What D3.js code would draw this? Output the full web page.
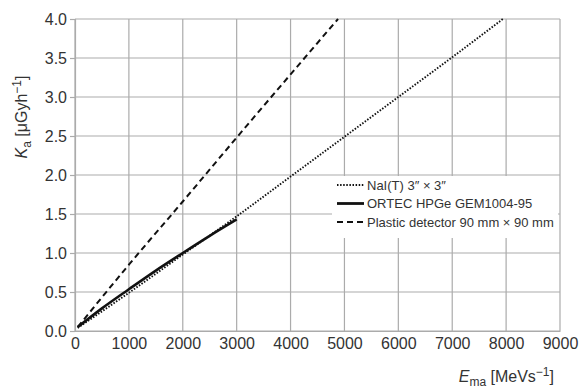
<!DOCTYPE html>
<html>
<head>
<meta charset="utf-8">
<script src="https://cdn.jsdelivr.net/npm/d3@7"></script>
<style>
  body { margin: 0; background: #fff; }
  svg { font-family: "Liberation Sans", Arial, sans-serif; }
</style>
</head>
<body>
<svg width="581" height="389"></svg>
<script>
// readings from the picture
var xTicks = [0, 1000, 2000, 3000, 4000, 5000, 6000, 7000, 8000, 9000];
var yTicks = [0.0, 0.5, 1.0, 1.5, 2.0, 2.5, 3.0, 3.5, 4.0];

var naiX = [50, 1000, 2000, 3000, 4000, 5000, 6000, 7000, 7940];
var naiY = [0.04, 0.49, 0.98, 1.47, 1.98, 2.49, 3.0, 3.51, 4.0];

var hpgeX = [50, 500, 1000, 1500, 2000, 2500, 3000];
var hpgeY = [0.05, 0.29, 0.535, 0.775, 1.0, 1.22, 1.43];

var plasticX = [50, 1000, 2000, 3000, 4000, 4880];
var plasticY = [0.05, 0.85, 1.66, 2.48, 3.29, 4.0];

var legendLabels = ["NaI(T) 3\u2033 \u00d7 3\u2033", "ORTEC HPGe GEM1004-95", "Plastic detector 90 mm \u00d7 90 mm"];

var svg = d3.select("svg");
var plotLeft = 75, plotRight = 560, plotTop = 19, plotBottom = 331;
var gridColor = "#ababab", textColor = "#333";

var x = d3.scaleLinear().domain([0, 9000]).range([plotLeft, plotRight]);
var y = d3.scaleLinear().domain([0, 4]).range([plotBottom, plotTop]);

// grid
svg.append("g")
   .selectAll("line")
   .data(xTicks)
   .enter().append("line")
   .attr("x1", function(d) { return x(d); })
   .attr("x2", function(d) { return x(d); })
   .attr("y1", plotTop).attr("y2", plotBottom)
   .attr("stroke", gridColor).attr("stroke-width", 1.2);

svg.append("g")
   .selectAll("line")
   .data(yTicks)
   .enter().append("line")
   .attr("x1", plotLeft).attr("x2", plotRight)
   .attr("y1", function(d) { return y(d); })
   .attr("y2", function(d) { return y(d); })
   .attr("stroke", gridColor).attr("stroke-width", 1.2);

// axes
var yAxis = svg.append("g")
   .attr("transform", "translate(" + plotLeft + ",0)")
   .call(d3.axisLeft(y).tickValues(yTicks).tickSize(5).tickPadding(3).tickFormat(d3.format(".1f")));
var xAxis = svg.append("g")
   .attr("transform", "translate(0," + plotBottom + ")")
   .call(d3.axisBottom(x).tickValues(xTicks).tickSize(0).tickPadding(7).tickFormat(d3.format("d")));

[xAxis, yAxis].forEach(function(a) {
    a.select(".domain").attr("stroke", gridColor).attr("stroke-width", 1.2);
    a.selectAll(".tick line").attr("stroke", gridColor).attr("stroke-width", 1.2);
    a.selectAll("text").attr("fill", textColor).style("font-size", "16px");
});

// series
var line = d3.line()
   .curve(d3.curveMonotoneX)
   .x(function(d) { return x(d[0]); })
   .y(function(d) { return y(d[1]); });

function pairs(xs, ys) {
    return xs.map(function(v, i) { return [v, ys[i]]; });
}

svg.append("path")
   .datum(pairs(naiX, naiY))
   .attr("d", line)
   .attr("fill", "none").attr("stroke", "#111")
   .attr("stroke-width", 1.9).attr("stroke-dasharray", "1.5,1.6");

svg.append("path")
   .datum(pairs(plasticX, plasticY))
   .attr("d", line)
   .attr("fill", "none").attr("stroke", "#111")
   .attr("stroke-width", 2).attr("stroke-dasharray", "6,4");

svg.append("path")
   .datum(pairs(hpgeX, hpgeY))
   .attr("d", line)
   .attr("fill", "none").attr("stroke", "#111")
   .attr("stroke-width", 2.6);

// legend
svg.append("rect")
   .attr("x", 332).attr("y", 176).attr("width", 226).attr("height", 62)
   .attr("fill", "#fff");

var dashes = ["1.5,1.6", null, "6,4"];
var widths = [1.8, 2.8, 1.8];
var legend = svg.append("g")
   .selectAll("g")
   .data(legendLabels)
   .enter().append("g")
   .attr("transform", function(d, i) { return "translate(337," + (185 + i * 18.5) + ")"; });

legend.append("line")
   .attr("x1", 0).attr("x2", 27).attr("y1", 0).attr("y2", 0)
   .attr("stroke", "#111")
   .attr("stroke-width", function(d, i) { return widths[i]; })
   .attr("stroke-dasharray", function(d, i) { return dashes[i]; });

legend.append("text")
   .attr("x", 30).attr("y", 0).attr("dy", "0.35em")
   .attr("fill", textColor)
   .style("font-size", "13px")
   .text(function(d) { return d; });

// axis titles
var xt = svg.append("text")
   .attr("x", 554).attr("y", 382)
   .attr("text-anchor", "end")
   .attr("fill", textColor)
   .style("font-size", "16px");
xt.append("tspan").style("font-style", "italic").text("E");
xt.append("tspan").attr("dy", 4).style("font-size", "12px").text("ma");
xt.append("tspan").attr("dy", -4).text(" [MeVs");
xt.append("tspan").attr("dy", -6).style("font-size", "12px").text("\u22121");
xt.append("tspan").attr("dy", 6).text("]");

var yt = svg.append("text")
   .attr("transform", "translate(27,117) rotate(-90)")
   .attr("text-anchor", "middle")
   .attr("fill", textColor)
   .style("font-size", "16px");
yt.append("tspan").style("font-style", "italic").text("K");
yt.append("tspan").attr("dy", 4).style("font-size", "12px").text("a");
yt.append("tspan").attr("dy", -4).text(" [\u03bcGyh");
yt.append("tspan").attr("dy", -6).style("font-size", "12px").text("\u22121");
yt.append("tspan").attr("dy", 6).text("]");
</script>
</body>
</html>
